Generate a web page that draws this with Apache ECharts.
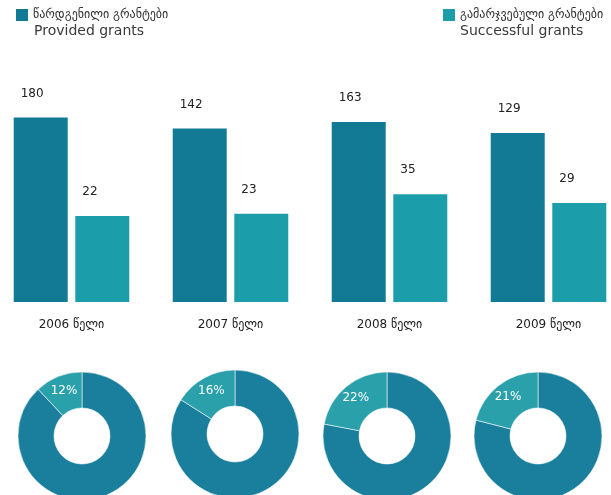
<!DOCTYPE html>
<html>
<head>
<meta charset="utf-8">
<script src="https://cdn.jsdelivr.net/npm/echarts@6/dist/echarts.min.js"></script>
<style>
html,body{margin:0;padding:0;background:#fff;}
#c{width:611px;height:495px;}
</style>
</head>
<body>
<div id="c"></div>
<script>
var years = ['2006', '2007', '2008', '2009'];
var yearSuffix = ' წელი';
var providedGrants = [180, 142, 163, 129];
var successfulGrants = [22, 23, 35, 29];
var successPercent = [12, 16, 22, 21];
var seriesNames = ['Provided grants', 'Successful grants'];
var seriesNamesKa = ['წარდგენილი გრანტები', 'გამარჯვებული გრანტები'];

var darkBar = '#137a96';
var lightBar = '#1c9eaa';
var darkPie = '#1a7f9c';
var lightPie = '#2aa0ab';
var font = 'DejaVu Sans';

var pieCenters = [[82, 436], [235, 434], [387, 436], [538, 436]];

var chart = echarts.init(document.getElementById('c'), null, {renderer: 'canvas'});

function barLabel(){
  return {show: true, position: [7, -30], color: '#222', fontSize: 12, fontFamily: font};
}

var series = [
  {
    name: seriesNames[0], type: 'bar', data: providedGrants, barWidth: 54, barGap: '14%', clip: true,
    itemStyle: {color: darkBar}, label: barLabel(), silent: true
  },
  {
    name: seriesNames[1], type: 'bar', data: successfulGrants, barWidth: 54, clip: true,
    itemStyle: {color: lightBar}, label: barLabel(), silent: true
  }
];

successPercent.forEach(function(p, i){
  series.push({
    type: 'pie', center: pieCenters[i], radius: [28, 64], startAngle: 90, clockwise: true,
    silent: true, animation: false,
    itemStyle: {borderColor: 'rgba(255,255,255,0.55)', borderWidth: 1},
    labelLine: {show: false},
    data: [
      {value: 100 - p, itemStyle: {color: darkPie}, label: {show: false}},
      {value: p, itemStyle: {color: lightPie},
       label: {show: true, position: 'inside', formatter: '{c}%', color: '#fff', fontSize: 12, fontFamily: font}}
    ]
  });
});

var legendCommon = {
  orient: 'horizontal', icon: 'rect', itemWidth: 12, itemHeight: 12, top: 9, padding: 0,
  selectedMode: false,
  textStyle: {fontSize: 12, color: '#333', fontFamily: font},
  formatter: function(name){ return seriesNamesKa[seriesNames.indexOf(name)]; }
};

chart.setOption({
  animation: false,
  backgroundColor: '#fff',
  legend: [
    Object.assign({}, legendCommon, {left: 16, data: [{name: seriesNames[0], itemStyle: {color: darkBar}}]}),
    Object.assign({}, legendCommon, {left: 443, data: [{name: seriesNames[1], itemStyle: {color: lightBar}}]})
  ],
  graphic: [
    {type: 'text', left: 34, top: 24, style: {text: seriesNames[0], fontSize: 14, fill: '#3a3a3a', fontFamily: font}},
    {type: 'text', left: 460, top: 24, style: {text: seriesNames[1], fontSize: 14, fill: '#3a3a3a', fontFamily: font}}
  ],
  grid: {left: -8, width: 636, top: 80, bottom: 193, containLabel: false, outerBoundsMode: 'none'},
  xAxis: {
    type: 'category', data: years,
    axisLine: {show: false}, axisTick: {show: false},
    axisLabel: {margin: 17, fontSize: 12, color: '#222', fontFamily: font,
      formatter: function(v){ return v + yearSuffix; }}
  },
  yAxis: {
    type: 'log', logBase: 10, min: 3.5, max: 400, show: false,
    splitLine: {show: false}
  },
  series: series
});
</script>
</body>
</html>
